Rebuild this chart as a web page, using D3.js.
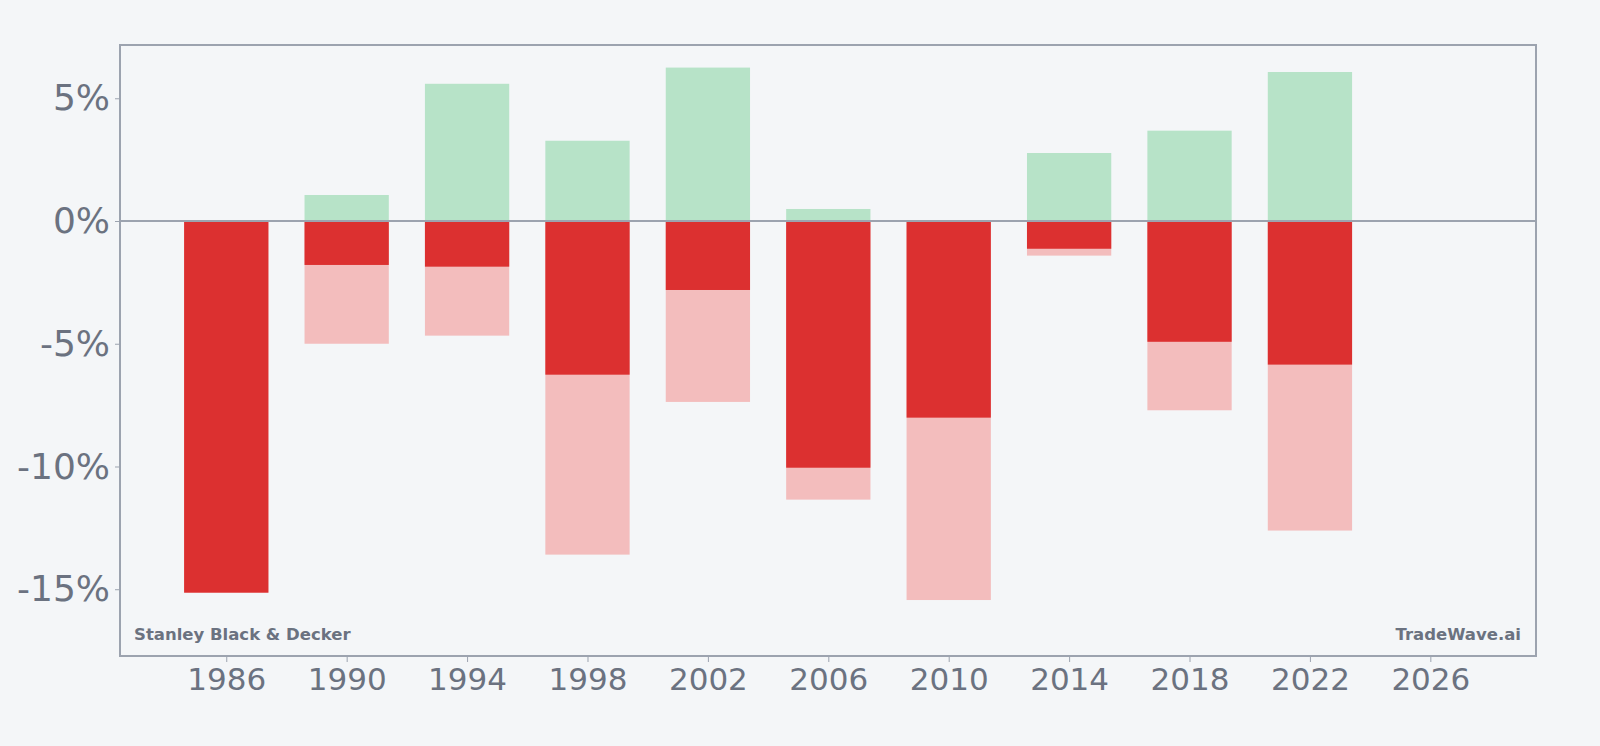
<!DOCTYPE html>
<html>
<head>
<meta charset="utf-8">
<script src="https://cdn.jsdelivr.net/npm/d3@7"></script>
<style>
    html, body { margin: 0; padding: 0; background: #f4f6f8; }
    svg { display: block; font-family: "DejaVu Sans", sans-serif; }
    .axis text { fill: #6b7280; font-family: "DejaVu Sans", sans-serif; }
    .axis line { stroke: #9ca3af; }
    .axis path { display: none; }
</style>
</head>
<body>
<div id="chart"></div>
<script>
// data (percent)
const years = [1986, 1990, 1994, 1998, 2002, 2006, 2010, 2014, 2018, 2022]
const gains = [0, 1.06, 5.59, 3.27, 6.25, 0.49, 0, 2.77, 3.68, 6.07]
const drawdowns = [-15.14, -1.79, -1.86, -6.26, -2.81, -10.05, -8.01, -1.13, -4.92, -5.85]
const worst = [-15.14, -5.0, -4.67, -13.59, -7.37, -11.35, -15.44, -1.41, -7.71, -12.61]
const xTicks = [1986, 1990, 1994, 1998, 2002, 2006, 2010, 2014, 2018, 2022, 2026]
const yTicks = [5, 0, -5, -10, -15]

const dim = {
    width: 1600,
    height: 746
}
const margin = { top: 45, right: 64, bottom: 90, left: 120 }

const rows = years.map((y, i) => ({ year: y, gain: gains[i], dd: drawdowns[i], worst: worst[i] }))

const svg = d3.select('#chart')
    .append('svg')
        .attr('width', dim.width)
        .attr('height', dim.height)

// scales
const xScale = d3.scaleLinear()
    .domain([1982.47, 2029.51])
    .range([margin.left, dim.width - margin.right])

const yScale = d3.scaleLinear()
    .domain([-17.72, 7.17])
    .range([dim.height - margin.bottom, margin.top])

const barW = xScale(2.8) - xScale(0)

// bars: pink (worst) behind red (drawdown), green above zero
const bars = svg.append('g').attr('class', 'bars')

bars.selectAll('rect.worst')
    .data(rows)
    .join('rect')
        .attr('class', 'worst')
        .attr('x', d => xScale(d.year) - barW / 2)
        .attr('y', yScale(0))
        .attr('width', barW)
        .attr('height', d => yScale(d.worst) - yScale(0))
        .attr('fill', '#f3bdbd')

bars.selectAll('rect.dd')
    .data(rows)
    .join('rect')
        .attr('class', 'dd')
        .attr('x', d => xScale(d.year) - barW / 2)
        .attr('y', yScale(0))
        .attr('width', barW)
        .attr('height', d => yScale(d.dd) - yScale(0))
        .attr('fill', '#dc3030')

bars.selectAll('rect.gain')
    .data(rows.filter(d => d.gain > 0))
    .join('rect')
        .attr('class', 'gain')
        .attr('x', d => xScale(d.year) - barW / 2)
        .attr('y', d => yScale(d.gain))
        .attr('width', barW)
        .attr('height', d => yScale(0) - yScale(d.gain))
        .attr('fill', '#b7e3c8')

// zero line
svg.append('line')
    .attr('x1', margin.left)
    .attr('x2', dim.width - margin.right)
    .attr('y1', yScale(0))
    .attr('y2', yScale(0))
    .attr('stroke', '#9ca3af')
    .attr('stroke-width', 2)

// frame
svg.append('rect')
    .attr('x', margin.left)
    .attr('y', margin.top)
    .attr('width', dim.width - margin.left - margin.right)
    .attr('height', dim.height - margin.top - margin.bottom)
    .attr('fill', 'none')
    .attr('stroke', '#9ca3af')
    .attr('stroke-width', 2)

// axes
svg.append('g')
    .attr('class', 'axis')
    .attr('transform', `translate(0,${dim.height - margin.bottom + 1})`)
    .call(d3.axisBottom(xScale).tickValues(xTicks).tickFormat(d3.format('d')).tickSize(5).tickPadding(6))
    .attr('font-family', null)
    .selectAll('text')
        .attr('font-size', 31)

svg.append('g')
    .attr('class', 'axis')
    .attr('transform', `translate(${margin.left - 1},0)`)
    .call(d3.axisLeft(yScale).tickValues(yTicks).tickFormat(d => d + '%').tickSize(4).tickPadding(5))
    .attr('font-family', null)
    .selectAll('text')
        .attr('font-size', 36)

// footer labels
svg.append('text')
    .attr('x', 134)
    .attr('y', 640)
    .attr('font-size', 16.5)
    .attr('font-weight', 'bold')
    .attr('fill', '#6b7280')
    .text('Stanley Black & Decker')

svg.append('text')
    .attr('x', 1521)
    .attr('y', 640)
    .attr('text-anchor', 'end')
    .attr('font-size', 16.5)
    .attr('font-weight', 'bold')
    .attr('fill', '#6b7280')
    .text('TradeWave.ai')
</script>
</body>
</html>
